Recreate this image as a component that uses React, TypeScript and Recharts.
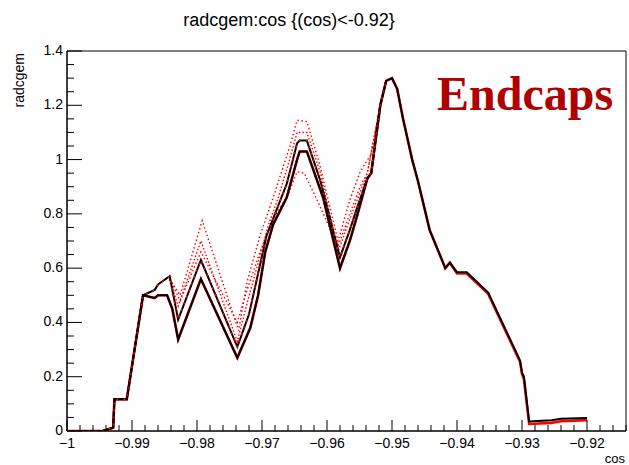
import React from "react";
import { LineChart, Line, XAxis, YAxis, ReferenceArea } from "recharts";

// shared start of every curve (cos from -1 up to the split)
const prefixX = [-1, -0.9945, -0.9929, -0.9927, -0.9908, -0.9883];
const prefixY = [0, 0, 0.012, 0.117, 0.117, 0.5];

// black branches between the split and the merge
const lowerX = [-0.9865, -0.986, -0.9846, -0.9838, -0.9829, -0.9794, -0.9738, -0.9718, -0.9706, -0.9695, -0.9683, -0.9662, -0.9646, -0.9642, -0.9631, -0.9606, -0.958, -0.9565, -0.9554, -0.9538, -0.9532];
const lowerY = [0.49, 0.5, 0.5, 0.45, 0.337, 0.56, 0.27, 0.38, 0.5, 0.66, 0.76, 0.86, 1.0, 1.03, 1.03, 0.86, 0.6, 0.7, 0.79, 0.93, 0.95];
const upperX = [-0.9865, -0.986, -0.9842, -0.9829, -0.9794, -0.9738, -0.972, -0.9706, -0.9693, -0.968, -0.9662, -0.9646, -0.9642, -0.9631, -0.961, -0.958, -0.9565, -0.9554, -0.9538, -0.9532];
const upperY = [0.52, 0.54, 0.57, 0.41, 0.63, 0.31, 0.43, 0.58, 0.72, 0.8, 0.91, 1.06, 1.07, 1.07, 0.92, 0.64, 0.74, 0.82, 0.93, 0.95];

// red scattered variants
const red1X = [-0.9842, -0.9829, -0.9794, -0.9738, -0.9723, -0.9706, -0.969, -0.9675, -0.966, -0.9646, -0.9631, -0.961, -0.9583, -0.9565, -0.9549, -0.9538];
const red1Y = [0.56, 0.46, 0.7, 0.33, 0.47, 0.62, 0.76, 0.86, 0.98, 1.1, 1.1, 0.95, 0.66, 0.78, 0.88, 0.95];
const red2X = [-0.9842, -0.9826, -0.9792, -0.9736, -0.9723, -0.9703, -0.968, -0.9657, -0.9646, -0.9631, -0.9611, -0.9583, -0.9565, -0.9549, -0.9532];
const red2Y = [0.56, 0.5, 0.775, 0.37, 0.55, 0.72, 0.88, 1.05, 1.145, 1.14, 0.98, 0.7, 0.85, 0.955, 1.02];
const red3X = [-0.9842, -0.9826, -0.9794, -0.9738, -0.9723, -0.9703, -0.9683, -0.966, -0.9646, -0.9635, -0.9615, -0.9583, -0.9565, -0.9549, -0.9538];
const red3Y = [0.56, 0.48, 0.66, 0.4, 0.52, 0.66, 0.78, 0.87, 0.955, 0.95, 0.85, 0.68, 0.8, 0.9, 0.95];

// shared rise to the main peak and the tail
const riseX = [-0.9518, -0.9509];
const riseY = [1.2, 1.29];
const suffixX = [-0.95, -0.9492, -0.9483, -0.9469, -0.946, -0.9442, -0.9418, -0.9411, -0.94, -0.9385, -0.9352, -0.9303, -0.93, -0.9297, -0.9289, -0.9255, -0.924, -0.92];
const suffixY = [1.3, 1.26, 1.15, 1.0, 0.92, 0.74, 0.6, 0.62, 0.585, 0.585, 0.51, 0.26, 0.215, 0.2, 0.035, 0.04, 0.045, 0.048];
const redSuffixY = [1.3, 1.26, 1.15, 1.0, 0.92, 0.74, 0.6, 0.62, 0.58, 0.58, 0.505, 0.255, 0.21, 0.19, 0.026, 0.03, 0.036, 0.04];

const xMajor = [-1, -0.99, -0.98, -0.97, -0.96, -0.95, -0.94, -0.93, -0.92];
const xLabels = ["\u22121", "\u22120.99", "\u22120.98", "\u22120.97", "\u22120.96", "\u22120.95", "\u22120.94", "\u22120.93", "\u22120.92"];
const yMajor = [0, 0.2, 0.4, 0.6, 0.8, 1, 1.2, 1.4];
const yLabels = ["0", "0.2", "0.4", "0.6", "0.8", "1", "1.2", "1.4"];

const X_MIN = -1;
const X_MAX = -0.914;
const FONT = "'Liberation Sans', Arial, Helvetica, sans-serif";

const pts = (xs: number[], ys: number[]) => xs.map((x, i) => ({ x, y: ys[i] }));

const lowerCurve = [...pts(prefixX, prefixY), ...pts(lowerX, lowerY), ...pts(riseX, riseY), ...pts(suffixX, suffixY)];
const upperCurve = [...pts(prefixX, prefixY), ...pts(upperX, upperY), ...pts(riseX, riseY)];
const redLower = [...pts(prefixX, prefixY), ...pts(lowerX, lowerY), ...pts(riseX, riseY), ...pts(suffixX, redSuffixY)];
const red1 = [...pts(red1X, red1Y), ...pts(riseX, riseY)];
const red2 = [...pts(red2X, red2Y), ...pts(riseX, riseY)];
const red3 = [...pts(red3X, red3Y), ...pts(riseX, riseY)];

// minor ticks: 5 subdivisions on x, 4 on y
const xTicks: number[] = [];
for (let i = 0; i <= 43; i++) xTicks.push(Math.round((X_MIN + i * 0.002) * 1000) / 1000);
const yTicks: number[] = [];
for (let i = 0; i <= 28; i++) yTicks.push(Math.round(i * 5) / 100);

const isMajor = (list: number[], v: number) => list.findIndex((m) => Math.abs(m - v) < 1e-6);

function XTick(props: any) {
  const { x, y, payload } = props;
  const idx = isMajor(xMajor, payload.value);
  const len = idx >= 0 ? 11 : 6;
  return (
    <g>
      <line x1={x} x2={x} y1={y} y2={y - len} stroke="#000" strokeWidth={1} />
      {idx >= 0 && (
        <text x={x} y={y + 17} textAnchor="middle" fontSize={14} fontFamily={FONT} fill="#000">
          {xLabels[idx]}
        </text>
      )}
    </g>
  );
}

function YTick(props: any) {
  const { x, y, payload } = props;
  const idx = isMajor(yMajor, payload.value);
  const len = idx >= 0 ? 15 : 7;
  return (
    <g>
      <line x1={x} x2={x + len} y1={y} y2={y} stroke="#000" strokeWidth={1} />
      {idx >= 0 && (
        <text x={x - 4} y={y + 4} textAnchor="end" fontSize={14} fontFamily={FONT} fill="#000">
          {yLabels[idx]}
        </text>
      )}
    </g>
  );
}

export default function App() {
  return (
    <div style={{ position: "absolute", left: 0, top: 0, width: 629, height: 465, background: "#fff" }}>
      <LineChart width={629} height={465} margin={{ top: 51, right: 3, bottom: 0, left: 0 }}>
        <XAxis
          type="number"
          dataKey="x"
          domain={[X_MIN, X_MAX]}
          ticks={xTicks}
          interval={0}
          tickSize={0}
          tickMargin={0}
          tickLine={false}
          axisLine={{ stroke: "#000" }}
          tick={(p: any) => <XTick {...p} />}
          height={34}
          allowDataOverflow
        />
        <YAxis
          type="number"
          dataKey="y"
          domain={[0, 1.4]}
          ticks={yTicks}
          interval={0}
          tickSize={0}
          tickMargin={0}
          tickLine={false}
          axisLine={{ stroke: "#000" }}
          tick={(p: any) => <YTick {...p} />}
          width={67}
          allowDataOverflow
        />
        <ReferenceArea x1={X_MIN} x2={X_MAX} y1={0} y2={1.4} fill="none" stroke="#000" strokeWidth={1} />
        <Line data={red3} dataKey="y" type="linear" stroke="#ff0000" strokeWidth={1.4} strokeDasharray="1.5 2.5" dot={false} isAnimationActive={false} />
        <Line data={red1} dataKey="y" type="linear" stroke="#ff0000" strokeWidth={1.4} strokeDasharray="1.5 2" dot={false} isAnimationActive={false} />
        <Line data={red2} dataKey="y" type="linear" stroke="#ff0000" strokeWidth={1.4} strokeDasharray="1.5 2.5" dot={false} isAnimationActive={false} />
        <Line data={redLower} dataKey="y" type="linear" stroke="#ff0000" strokeWidth={2.6} dot={false} isAnimationActive={false} />
        <Line data={upperCurve} dataKey="y" type="linear" stroke="#000" strokeWidth={2} dot={false} isAnimationActive={false} />
        <Line data={lowerCurve} dataKey="y" type="linear" stroke="#000" strokeWidth={2} dot={false} isAnimationActive={false} />
        <Line data={upperCurve} dataKey="y" type="linear" stroke="#ff0000" strokeWidth={1.6} strokeDasharray="2 5" dot={false} isAnimationActive={false} />
      </LineChart>
      <svg width={629} height={465} style={{ position: "absolute", left: 0, top: 0, pointerEvents: "none" }}>
        <text x={289} y={26} textAnchor="middle" fontSize={18} fontFamily={FONT} fill="#000">
          radcgem:cos {"{(cos)<-0.92}"}
        </text>
        <text transform="translate(24, 53) rotate(-90)" textAnchor="end" fontSize={14} fontFamily={FONT} fill="#000">
          radcgem
        </text>
        <text x={625} y={463} textAnchor="end" fontSize={13} fontFamily={FONT} fill="#000">
          cos
        </text>
        <text x={437} y={110} fontSize={48} fontWeight="bold" fontFamily="'Liberation Serif', 'Times New Roman', serif" fill="#b00000">
          Endcaps
        </text>
      </svg>
    </div>
  );
}
